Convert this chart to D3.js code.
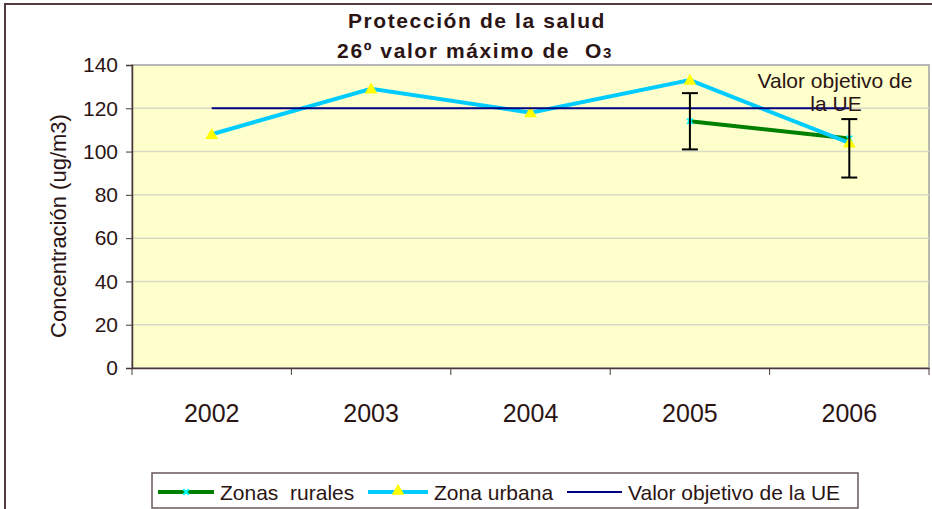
<!DOCTYPE html>
<html>
<head>
<meta charset="utf-8">
<script src="https://cdn.jsdelivr.net/npm/d3@7"></script>
<style>
  body { margin: 0; background: #fff; }
  svg text { font-family: "Liberation Sans", Arial, sans-serif; fill: #2b1414; white-space: pre; }
</style>
</head>
<body>
<div id="chart"></div>
<script>
// data
const years = ['2002', '2003', '2004', '2005', '2006']
const urbana = [108, 129, 118, 133, 104]
const rurales = [null, null, null, 114, 106]
const ruralesLow = [null, null, null, 101, 88]
const ruralesHigh = [null, null, null, 127, 115]
const objetivo = [120, 120, 120, 120, 120]
const yTicks = [0, 20, 40, 60, 80, 100, 120, 140]

const W = 932, H = 509
const m = {l: 132, r: 3, t: 65, b: 141}
const w = W - m.l - m.r, h = H - m.t - m.b

const svg = d3.select('#chart').append('svg')
    .attr('width', W).attr('height', H)

// outer frame (only left and top show)
svg.append('path')
    .attr('d', `M5,${H} V4 H${W}`)
    .attr('fill', 'none').attr('stroke', '#503c3c').attr('stroke-width', 2)

const g = svg.append('g').attr('transform', `translate(${m.l},${m.t})`)

const x = d3.scaleBand().domain(years).range([0, w]).padding(0)
const y = d3.scaleLinear().domain([0, 140]).range([h, 0])
const cx = d => x(d) + x.bandwidth() / 2

// plot area
g.append('rect').attr('width', w).attr('height', h)
    .attr('fill', '#ffffcc').attr('stroke', '#a0a0a0').attr('stroke-width', 1.5)

// gridlines
g.selectAll('.grid').data(yTicks.slice(1, -1)).enter().append('line')
    .attr('x1', 0).attr('x2', w)
    .attr('y1', d => y(d)).attr('y2', d => y(d))
    .attr('stroke', '#d9d9c8').attr('stroke-width', 1.5)

// y axis
const yAxis = g.append('g').call(d3.axisLeft(y).tickValues(yTicks).tickSize(6).tickPadding(8))
yAxis.select('.domain').attr('stroke', '#4a3838').attr('stroke-width', 1.5)
yAxis.selectAll('.tick line').attr('stroke', '#4a3838')
yAxis.selectAll('text').attr('font-size', 21).style('font-family', '"Liberation Sans", Arial, sans-serif').attr('fill', '#2b1414')

// x axis: labels centred, ticks on the band edges
const xAxis = g.append('g').attr('transform', `translate(0,${h})`)
    .call(d3.axisBottom(x).tickSize(0).tickPadding(36))
xAxis.select('.domain').attr('stroke', '#4a3838').attr('stroke-width', 1.5)
xAxis.selectAll('text').attr('font-size', 25).style('font-family', '"Liberation Sans", Arial, sans-serif').attr('fill', '#2b1414')
xAxis.selectAll('.edge').data(years.map(d => x(d)).concat([w])).enter().append('line')
    .attr('x1', d => d).attr('x2', d => d).attr('y1', 0).attr('y2', 7)
    .attr('stroke', '#4a3838')

// y axis title
svg.append('text')
    .attr('transform', 'translate(66,226) rotate(-90)')
    .attr('text-anchor', 'middle').attr('font-size', 22)
    .text('Concentración (ug/m3)')

// title
svg.append('text').attr('x', 477).attr('y', 28).attr('text-anchor', 'middle')
    .attr('font-size', 21).attr('font-weight', 'bold').attr('letter-spacing', 1.6)
    .text('Protección de la salud')
const t2 = svg.append('text').attr('x', 475).attr('y', 58).attr('text-anchor', 'middle')
    .attr('font-size', 21).attr('font-weight', 'bold').attr('letter-spacing', 1.6)
t2.append('tspan').text('26º valor máximo de  O')
t2.append('tspan').attr('font-size', 15).text('3')

// series lines
const line = d3.line()
    .defined(d => d[1] != null)
    .x(d => cx(d[0])).y(d => y(d[1]))

const ruralPts = years.map((d, i) => [d, rurales[i]])
const urbanPts = years.map((d, i) => [d, urbana[i]])
const objPts = years.map((d, i) => [d, objetivo[i]])

g.append('path').datum(ruralPts).attr('d', line)
    .attr('fill', 'none').attr('stroke', '#008000').attr('stroke-width', 4)
g.append('path').datum(urbanPts).attr('d', line)
    .attr('fill', 'none').attr('stroke', '#00ccff').attr('stroke-width', 4)

// rural markers (small cyan x)
const xMark = d3.symbol().type(d3.symbolX).size(22)
g.selectAll('.rm').data(ruralPts.filter(d => d[1] != null)).enter().append('path')
    .attr('d', xMark)
    .attr('transform', d => `translate(${cx(d[0])},${y(d[1])})`)
    .attr('stroke', '#00ffff').attr('stroke-width', 2)

// urban markers (yellow triangles)
const tri = d3.symbol().type(d3.symbolTriangle).size(70)
g.selectAll('.um').data(urbanPts).enter().append('path')
    .attr('d', tri)
    .attr('transform', d => `translate(${cx(d[0])},${y(d[1]) + 1})`)
    .attr('fill', '#ffff00')

// objective line
g.append('path').datum(objPts).attr('d', line)
    .attr('fill', 'none').attr('stroke', '#000080').attr('stroke-width', 2)

// error bars
const errs = years.map((d, i) => ({year: d, lo: ruralesLow[i], hi: ruralesHigh[i]}))
    .filter(d => d.lo != null)
const eb = g.selectAll('.err').data(errs).enter().append('g')
eb.append('line').attr('x1', d => cx(d.year)).attr('x2', d => cx(d.year))
    .attr('y1', d => y(d.hi)).attr('y2', d => y(d.lo))
eb.append('line').attr('x1', d => cx(d.year) - 8).attr('x2', d => cx(d.year) + 8)
    .attr('y1', d => y(d.hi)).attr('y2', d => y(d.hi))
eb.append('line').attr('x1', d => cx(d.year) - 8).attr('x2', d => cx(d.year) + 8)
    .attr('y1', d => y(d.lo)).attr('y2', d => y(d.lo))
eb.selectAll('line').attr('stroke', '#000').attr('stroke-width', 2)

// in-plot label
svg.append('text').attr('x', 835).attr('y', 88).attr('text-anchor', 'middle')
    .attr('font-size', 21).text('Valor objetivo de')
svg.append('text').attr('x', 836).attr('y', 111).attr('text-anchor', 'middle')
    .attr('font-size', 21).text('la UE')

// legend
const legendItems = [
    {name: 'Zonas  rurales', color: '#008000', width: 4, marker: 'x', x0: 158, x1: 214},
    {name: 'Zona urbana', color: '#00ccff', width: 4, marker: 'tri', x0: 368, x1: 428},
    {name: 'Valor objetivo de la UE', color: '#000080', width: 2, marker: null, x0: 567, x1: 622}
]
const lg = svg.append('g')
lg.append('rect').attr('x', 152).attr('y', 473).attr('width', 706).attr('height', 35)
    .attr('fill', '#fff').attr('stroke', '#6a5858').attr('stroke-width', 1.5)
const li = lg.selectAll('.li').data(legendItems).enter().append('g')
li.append('line').attr('x1', d => d.x0).attr('x2', d => d.x1)
    .attr('y1', 492).attr('y2', 492)
    .attr('stroke', d => d.color).attr('stroke-width', d => d.width)
li.filter(d => d.marker === 'x').append('path').attr('d', xMark)
    .attr('transform', d => `translate(${(d.x0 + d.x1) / 2},492)`)
    .attr('stroke', '#00ffff').attr('stroke-width', 2)
li.filter(d => d.marker === 'tri').append('path').attr('d', tri)
    .attr('transform', d => `translate(${(d.x0 + d.x1) / 2},491)`)
    .attr('fill', '#ffff00')
li.append('text').attr('x', d => d.x1 + 6).attr('y', 500)
    .attr('font-size', 21).text(d => d.name)
</script>
</body>
</html>
